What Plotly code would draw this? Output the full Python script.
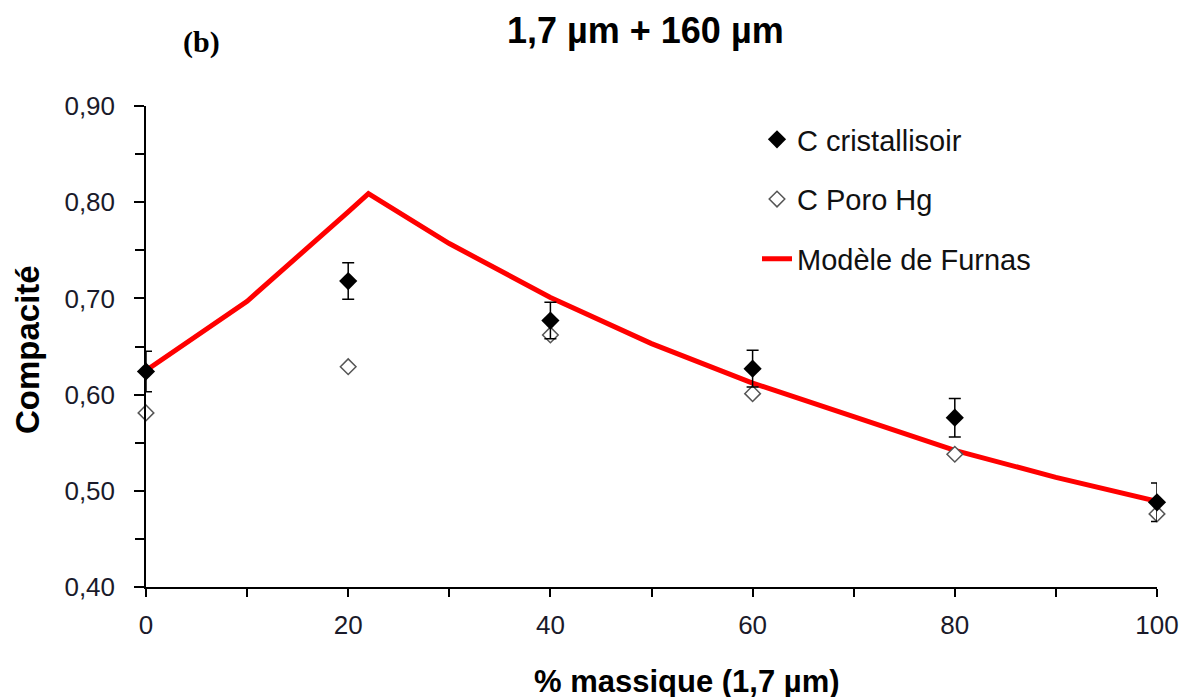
import plotly.graph_objects as go

# Data
x_exp = [0, 20, 40, 60, 80, 100]
c_cristallisoir = [0.624, 0.718, 0.677, 0.627, 0.576, 0.488]
c_cristallisoir_err = [0.021, 0.019, 0.019, 0.019, 0.020, 0.020]
c_poro_hg = [0.581, 0.629, 0.662, 0.601, 0.538, 0.476]

x_model = [0, 10, 20, 22, 30, 40, 50, 60, 70, 80, 90, 100]
furnas = [0.625, 0.697, 0.790, 0.809, 0.757, 0.701, 0.653, 0.612, 0.577, 0.542, 0.514, 0.489]

x_ticks = [0, 20, 40, 60, 80, 100]
y_ticks = [0.40, 0.50, 0.60, 0.70, 0.80, 0.90]

# plot area in pixels: left 146, right 1157, top 106, bottom 587
L, R, T, B = 146, 1157, 106, 587
PW, PH = R - L, B - T


def px_x(p):
    return (p - L) / PW


def px_y(p):
    return (B - p) / PH


fig = go.Figure()

fig.add_trace(go.Scatter(
    x=x_model, y=furnas, mode="lines", name="Modèle de Furnas",
    line=dict(color="#FF0000", width=5), cliponaxis=False,
    legendgroup="c", legendrank=3,
))
fig.add_trace(go.Scatter(
    x=x_exp, y=c_poro_hg, mode="markers", name="C Poro Hg",
    marker=dict(symbol="diamond", size=12, color="white",
                line=dict(color="#555555", width=1.5)),
    cliponaxis=False, legendgroup="b", legendrank=2,
))
fig.add_trace(go.Scatter(
    x=x_exp, y=c_cristallisoir, mode="markers", name="C cristallisoir",
    marker=dict(symbol="diamond", size=14, color="black"),
    error_y=dict(type="data", array=c_cristallisoir_err, color="black",
                 thickness=1.5, width=6),
    cliponaxis=False, legendgroup="a", legendrank=1,
))

font_family = "Liberation Sans, Arial, sans-serif"

fig.update_layout(
    width=1183, height=697, autosize=False,
    paper_bgcolor="white", plot_bgcolor="white",
    margin=dict(l=L, r=1183 - R, t=T, b=697 - B, autoexpand=False),
    separators=",.",
    font=dict(family=font_family, color="#1a1a2a", size=26),
    showlegend=True,
    legend=dict(
        x=px_x(757), y=px_y(114), xanchor="left", yanchor="top",
        bgcolor="rgba(0,0,0,0)", font=dict(size=29, color="#111111"),
        tracegroupgap=19, traceorder="grouped",
    ),
)

fig.add_annotation(text="<b>1,7 µm + 160 µm</b>", xref="paper", yref="paper",
                   x=px_x(645), y=px_y(31), xanchor="center", yanchor="middle",
                   showarrow=False, font=dict(size=36, family=font_family, color="black"))
fig.add_annotation(text="<b>(b)</b>", xref="paper", yref="paper",
                   x=px_x(201), y=px_y(42), xanchor="center", yanchor="middle",
                   showarrow=False, font=dict(size=30, family="Liberation Serif, Times New Roman, serif", color="black"))
fig.add_annotation(text="<b>% massique (1,7 µm)</b>", xref="paper", yref="paper",
                   x=px_x(687), y=px_y(681), xanchor="center", yanchor="middle",
                   showarrow=False, font=dict(size=31, family=font_family, color="black"))
fig.add_annotation(text="<b>Compacité</b>", xref="paper", yref="paper",
                   x=px_x(27), y=px_y(350), xanchor="center", yanchor="middle",
                   textangle=-90,
                   showarrow=False, font=dict(size=33, family=font_family, color="black"))

fig.update_xaxes(
    range=[0, 100], tickvals=x_ticks, ticktext=[str(v) for v in x_ticks],
    showline=True, linecolor="black", linewidth=1.5, mirror=False,
    ticks="outside", ticklen=8, tickwidth=1.5, tickcolor="black",
    minor=dict(dtick=10, ticks="outside", ticklen=8, tickwidth=1.5, tickcolor="black"),
    showgrid=False, zeroline=False, tickfont=dict(size=26),
    ticklabelstandoff=6, automargin=False,
)
fig.update_yaxes(
    range=[0.4, 0.9], tickvals=y_ticks, tickformat=".2f",
    showline=True, linecolor="black", linewidth=1.5,
    ticks="outside", ticklen=10, tickwidth=1.5, tickcolor="black",
    minor=dict(dtick=0.05, ticks="outside", ticklen=9, tickwidth=1.5, tickcolor="black"),
    showgrid=False, zeroline=False, tickfont=dict(size=26),
    ticklabelstandoff=14, automargin=False,
)

fig.write_html("out.html", config={"displayModeBar": False},
               post_script="document.body.style.margin='0';")
